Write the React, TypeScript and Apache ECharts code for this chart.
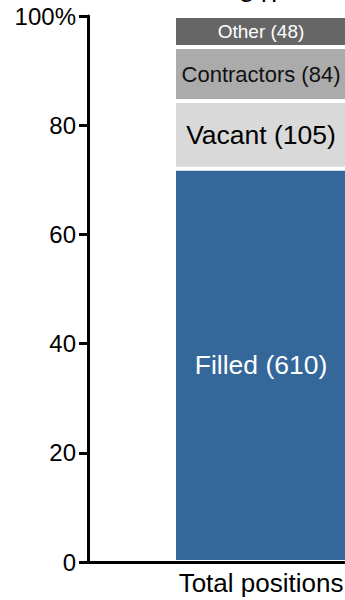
import React, { useEffect, useRef } from "react";
import * as echarts from "echarts";

const categories = ["Total positions"];
const filled = [610];
const vacant = [105];
const contractors = [84];
const other = [48];
const yTicks = [0, 20, 40, 60, 80, 100];

const FONT = "'Liberation Sans', Arial, Helvetica, sans-serif";

export default function App() {
  const ref = useRef<HTMLDivElement>(null);
  useEffect(() => {
    if (!ref.current) return;
    const chart = echarts.init(ref.current, null, { renderer: "svg" });
    const totals = categories.map(
      (_, i) => filled[i] + vacant[i] + contractors[i] + other[i]
    );
    const pct = (arr: number[]) => arr.map((v, i) => (v / totals[i]) * 100);
    const mk = (
      name: string,
      counts: number[],
      color: string,
      labelColor: string,
      fontSize: number
    ) => ({
      name,
      type: "bar",
      stack: "total",
      barWidth: 174,
      data: pct(counts),
      itemStyle: { color, borderColor: "#ffffff", borderWidth: 2 },
      label: {
        show: true,
        position: "inside",
        color: labelColor,
        fontSize,
        fontFamily: FONT,
        formatter: (p: any) => `${name} (${counts[p.dataIndex]})`,
      },
    });
    chart.setOption({
      animation: false,
      grid: { left: 88, right: 6, top: 16, bottom: 38, containLabel: false },
      xAxis: {
        type: "category",
        data: categories,
        z: 10,
        axisLine: { show: true, lineStyle: { color: "#000", width: 3 } },
        axisTick: { show: false },
        axisLabel: {
          color: "#000",
          fontSize: 26,
          fontFamily: FONT,
          margin: 8,
        },
      },
      yAxis: {
        type: "value",
        min: 0,
        max: 100,
        interval: 20,
        z: 10,
        splitLine: { show: false },
        axisLine: { show: true, lineStyle: { color: "#000", width: 3 } },
        axisTick: {
          show: true,
          length: 9,
          lineStyle: { color: "#000", width: 3 },
        },
        axisLabel: {
          color: "#000",
          fontSize: 24,
          fontFamily: FONT,
          margin: 12,
          formatter: (v: number) =>
            yTicks.includes(v) ? (v === 100 ? "100%" : String(v)) : "",
        },
      },
      series: [
        mk("Filled", filled, "#34679A", "#ffffff", 26.5),
        mk("Vacant", vacant, "#D9D9D9", "#000000", 26.5),
        mk("Contractors", contractors, "#ABABAB", "#111111", 22),
        mk("Other", other, "#666666", "#ffffff", 19),
        {
          name: "Total",
          type: "bar",
          stack: "total",
          barWidth: 174,
          data: categories.map(() => 0),
          itemStyle: { color: "transparent" },
          label: {
            show: true,
            position: "top",
            distance: 10,
            color: "#000",
            fontSize: 26,
            fontFamily: FONT,
            formatter: (p: any) => String(totals[p.dataIndex]),
          },
        },
      ],
    });
    return () => chart.dispose();
  }, []);
  return (
    <div
      style={{
        position: "fixed",
        left: 0,
        top: 0,
        width: 345,
        height: 600,
        overflow: "hidden",
        background: "#fff",
      }}
    >
      <div ref={ref} style={{ width: 440, height: 600 }} />
    </div>
  );
}
